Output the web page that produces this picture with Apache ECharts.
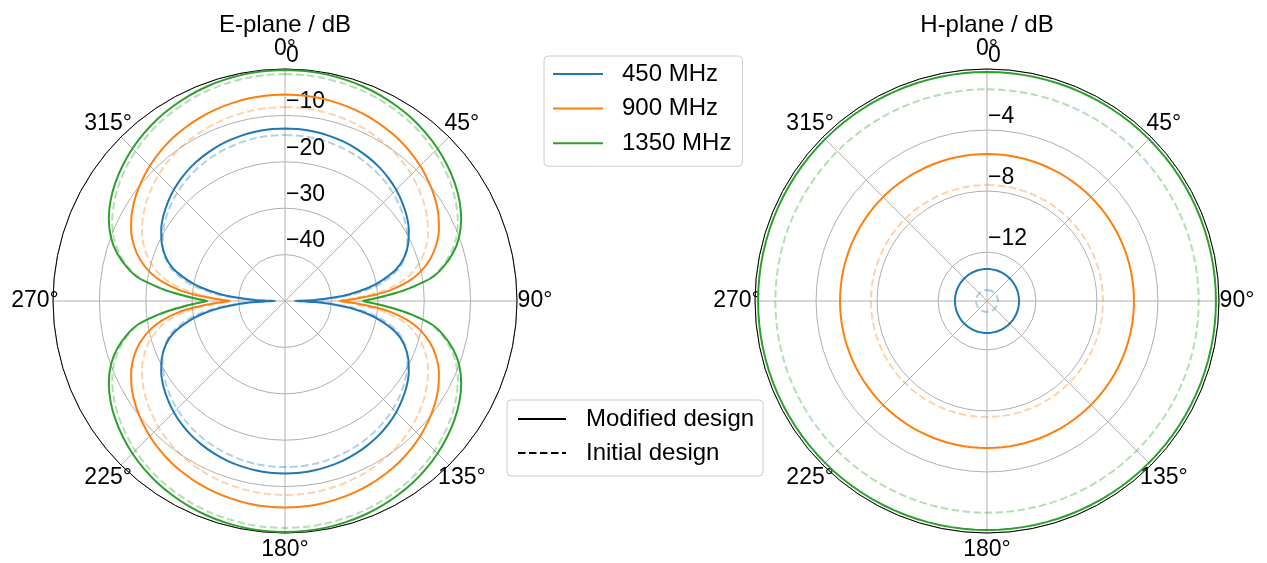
<!DOCTYPE html>
<html>
<head>
<meta charset="utf-8">
<script src="https://cdn.jsdelivr.net/npm/echarts@6/dist/echarts.min.js"></script>
<style>
  html, body { margin: 0; padding: 0; background: #ffffff; }
  #chart { width: 1267px; height: 563px; }
</style>
</head>
<body>
<div id="chart"></div>
<script>
// ---- data ---------------------------------------------------------------
const bands = ['450 MHz', '900 MHz', '1350 MHz'];
const bandColors = ['#1f77b4', '#ff7f0e', '#2ca02c'];
const designs = ['Modified design', 'Initial design'];

// E-plane gain (dB), one quadrant 0°..90°; the cut is symmetric about both axes
const eAngles = [0, 5, 10, 15, 20, 25, 30, 35, 40, 45, 50, 55, 60, 65, 70, 74, 78, 81, 84, 86, 88, 89, 90];
const eModified450 = [-12.8, -12.83, -12.95, -13.15, -13.4, -13.75, -14.2, -14.7, -15.35, -16.1, -17.0, -18.0, -19.2, -20.7, -22.7, -25.0, -28.6, -31.8, -36.0, -39.5, -43.5, -45.8, -47.8];
const eInitial450  = [-14.2, -14.23, -14.33, -14.5, -14.75, -15.05, -15.45, -15.9, -16.45, -17.1, -17.85, -18.7, -19.7, -20.9, -22.5, -24.4, -27.5, -30.5, -34.8, -38.5, -43.0, -45.5, -47.8];
const eModified900 = [-5.5, -5.53, -5.65, -5.85, -6.1, -6.45, -6.9, -7.4, -8.05, -8.8, -9.7, -10.7, -11.9, -13.4, -15.4, -17.5, -20.3, -23.1, -27.0, -30.5, -34.5, -36.5, -38.1];
const eInitial900  = [-8.2, -8.23, -8.35, -8.55, -8.8, -9.15, -9.6, -10.1, -10.75, -11.5, -12.4, -13.4, -14.6, -16.0, -17.9, -19.8, -22.4, -25.0, -28.8, -32.0, -35.5, -37.0, -38.3];
const eModified1350 = [-0.2, -0.23, -0.35, -0.55, -0.8, -1.15, -1.6, -2.1, -2.75, -3.5, -4.4, -5.4, -6.6, -8.1, -10.1, -12.3, -15.2, -18.0, -22.8, -26.3, -30.0, -31.8, -33.2];
const eInitial1350  = [-1.1, -1.13, -1.25, -1.45, -1.7, -2.05, -2.5, -3.0, -3.65, -4.4, -5.3, -6.3, -7.5, -8.9, -10.8, -12.9, -15.6, -18.3, -22.8, -26.2, -30.0, -31.8, -33.2];

// H-plane gain (dB): omnidirectional, one level per band
const hModified = [-13.1, -5.57, -0.2];
const hInitial  = [-14.48, -7.6, -1.33];

// axes
const eRange = [-50, 0];
const eStep = 10;
const hRange = [-15.2, 0];
const hTicks = [-12, -8, -4, 0];
const angleStep = 45;

// ---- helpers ------------------------------------------------------------
const FONT = '"Liberation Sans", Arial, sans-serif';
const GRID = '#b0b0b0';
const LW = 2;
const DASH = [7.5, 3.5];
const TICK_FS = 23;
const TEXT_FS = 24;

function fullCut(q) {
  const pts = [];
  const n = eAngles.length;
  for (let i = 0; i < n; i++) pts.push([q[i], eAngles[i]]);
  for (let i = n - 2; i >= 0; i--) pts.push([q[i], 180 - eAngles[i]]);
  for (let i = 1; i < n; i++) pts.push([q[i], 180 + eAngles[i]]);
  for (let i = n - 2; i >= 0; i--) pts.push([q[i], 360 - eAngles[i]]);
  return pts;
}
function ring(level) {
  const pts = [];
  for (let a = 0; a <= 360; a += 3) pts.push([level, a]);
  return pts;
}
const minus = v => String(v).replace('-', '\u2212');

function angleAxis(i) {
  const txt = { fontSize: TICK_FS, fontFamily: FONT, color: '#000', align: 'center' };
  return {
    polarIndex: i, type: 'value', min: 0, max: 360, interval: angleStep,
    startAngle: 90, clockwise: true,
    axisLine: { show: true, lineStyle: { color: '#000', width: 1 } },
    axisTick: { show: false },
    splitLine: { show: true, lineStyle: { color: GRID, width: 1 } },
    axisLabel: {
      margin: 4, color: '#000', fontSize: TICK_FS, fontFamily: FONT,
      formatter: v => {
        if (v === 360) return '';
        const k = v === 0 ? 't' : v === 180 ? 'b' : v % 180 === 90 ? 'h' : 'd';
        return '{' + k + '|' + v + '°}';
      },
      rich: {
        t: Object.assign({ lineHeight: 32, height: 32 }, txt),
        b: Object.assign({ lineHeight: 26, height: 26 }, txt),
        h: Object.assign({ width: 28, lineHeight: 22 }, txt),
        d: Object.assign({ width: 20, lineHeight: 20, height: 20 }, txt)
      }
    }
  };
}
const radiusLabel = {
  margin: -1, align: 'left', verticalAlign: 'bottom', padding: [0, 0, 2, 0],
  color: '#000', fontSize: TICK_FS, fontFamily: FONT
};

// ---- series -------------------------------------------------------------
const eModified = [eModified450, eModified900, eModified1350];
const eInitial = [eInitial450, eInitial900, eInitial1350];
const series = [];
const lineBase = { type: 'line', coordinateSystem: 'polar', symbol: 'none', silent: true, animation: false };

bands.forEach((b, k) => {
  const dashed = { color: bandColors[k], width: LW, type: DASH, opacity: 0.35 };
  series.push(Object.assign({}, lineBase, { name: b + ' initial E', polarIndex: 0, smooth: 0.3, lineStyle: dashed, data: fullCut(eInitial[k]) }));
  series.push(Object.assign({}, lineBase, { name: b + ' initial H', polarIndex: 1, lineStyle: dashed, data: ring(hInitial[k]) }));
});
bands.forEach((b, k) => {
  const style = { itemStyle: { color: bandColors[k] }, lineStyle: { color: bandColors[k], width: LW } };
  series.push(Object.assign({}, lineBase, style, { name: b, polarIndex: 0, smooth: 0.3, data: fullCut(eModified[k]) }));
  series.push(Object.assign({}, lineBase, style, { name: b, polarIndex: 1, data: ring(hModified[k]) }));
});
// legend-only entries for the line style key
series.push(Object.assign({}, lineBase, { name: designs[0], polarIndex: 0, data: [], itemStyle: { color: '#000' }, lineStyle: { color: '#000', width: LW } }));
series.push(Object.assign({}, lineBase, { name: designs[1], polarIndex: 0, data: [], itemStyle: { color: '#000' }, lineStyle: { color: '#000', width: LW, type: DASH } }));

const legendBase = {
  orient: 'vertical', itemHeight: 2, selectedMode: false,
  borderColor: '#cccccc', borderWidth: 1, borderRadius: 4, backgroundColor: '#ffffff',
  itemStyle: { opacity: 0 }
};
const legendText = pad => ({ fontSize: TEXT_FS, fontFamily: FONT, color: '#000', padding: [0, 0, 0, pad] });

const option = {
  animation: false,
  backgroundColor: '#ffffff',
  title: [
    { text: 'E-plane / dB', left: 285, top: 13, textAlign: 'center', padding: 0,
      textStyle: { fontSize: TEXT_FS, fontWeight: 'normal', color: '#000', fontFamily: FONT } },
    { text: 'H-plane / dB', left: 987, top: 13, textAlign: 'center', padding: 0,
      textStyle: { fontSize: TEXT_FS, fontWeight: 'normal', color: '#000', fontFamily: FONT } }
  ],
  legend: [
    Object.assign({}, legendBase, {
      data: bands, left: 544, top: 56, itemWidth: 50, itemGap: 10.6, padding: [6, 11, 11, 8],
      textStyle: legendText(14)
    }),
    Object.assign({}, legendBase, {
      data: designs, left: 507, top: 400, itemWidth: 48, itemGap: 10, padding: [7, 9, 11, 10],
      textStyle: legendText(15)
    })
  ],
  polar: [
    { center: [285, 301], radius: 232 },
    { center: [987, 301], radius: 232 }
  ],
  angleAxis: [angleAxis(0), angleAxis(1)],
  radiusAxis: [
    {
      polarIndex: 0, type: 'value', min: eRange[0], max: eRange[1], interval: eStep,
      axisLine: { show: false }, axisTick: { show: false },
      splitLine: { show: true, lineStyle: { color: GRID, width: 1 } },
      axisLabel: Object.assign({}, radiusLabel, { formatter: v => (v === eRange[0] ? '' : minus(v)) })
    },
    {
      polarIndex: 1, type: 'value', min: hRange[0], max: hRange[1],
      axisLine: { show: false }, axisTick: { show: false, customValues: hTicks },
      splitLine: { show: true, lineStyle: { color: GRID, width: 1 } },
      axisLabel: Object.assign({}, radiusLabel, { customValues: hTicks, formatter: v => minus(v) })
    }
  ],
  series: series
};

const chart = echarts.init(document.getElementById('chart'), null, { renderer: 'canvas' });
chart.setOption(option);
</script>
</body>
</html>
